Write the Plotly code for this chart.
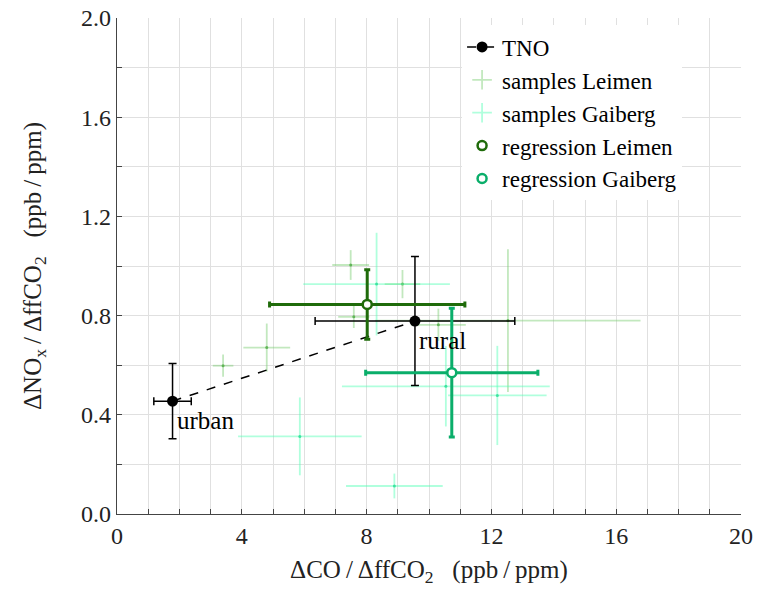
import plotly.graph_objects as go

# TNO inventory ratios
tno_x = [1.78, 9.55]
tno_y = [0.455, 0.778]
tno_xerr = [0.6, 3.2]
tno_yerr = [0.152, 0.26]
tno_labels = ["urban", "rural"]

# samples Leimen
lei_x = [3.40, 4.80, 7.49, 9.15, 7.59, 10.30, 12.53]
lei_y = [0.598, 0.671, 1.004, 0.927, 0.795, 0.763, 0.780]
lei_xerr = [0.33, 0.75, 0.59, 0.57, 0.50, 0.88, 4.25]
lei_yerr = [0.045, 0.097, 0.060, 0.057, 0.045, 0.065, 0.288]

# samples Gaiberg
gai_x = [8.32, 10.54, 12.19, 8.89, 5.86]
gai_y = [0.927, 0.515, 0.478, 0.113, 0.313]
gai_xerr = [2.35, 3.33, 1.58, 1.55, 1.98]
gai_yerr = [0.207, 0.162, 0.200, 0.050, 0.157]

# regression results
reg_lei = dict(x=8.02, y=0.845, xerr=3.13, yerr=0.14)
reg_gai = dict(x=10.73, y=0.570, xerr=2.76, yerr=0.26)

FONT = "Liberation Serif"
C_LEI_S = "rgba(120,205,110,0.45)"
C_GAI_S = "rgba(80,255,180,0.45)"
C_LEI = "#1f6b0a"
C_GAI = "#0aae6a"
TS = "\u2009"

fig = go.Figure()

fig.add_trace(go.Scatter(
    x=lei_x, y=lei_y, mode="markers", name="samples Leimen",
    marker=dict(size=3, color="rgba(80,170,70,0.8)"),
    error_x=dict(type="data", array=lei_xerr, color=C_LEI_S, thickness=1.8, width=0),
    error_y=dict(type="data", array=lei_yerr, color=C_LEI_S, thickness=1.8, width=0),
    showlegend=False))
fig.add_trace(go.Scatter(
    x=gai_x, y=gai_y, mode="markers", name="samples Gaiberg",
    marker=dict(size=3, color="rgba(40,220,150,0.8)"),
    error_x=dict(type="data", array=gai_xerr, color=C_GAI_S, thickness=1.8, width=0),
    error_y=dict(type="data", array=gai_yerr, color=C_GAI_S, thickness=1.8, width=0),
    showlegend=False))

# TNO
fig.add_trace(go.Scatter(
    x=tno_x, y=tno_y, mode="lines+markers", name="TNO",
    line=dict(color="black", dash="dash", width=1.5),
    marker=dict(size=11, color="black"),
    error_x=dict(type="data", array=tno_xerr, color="black", thickness=1.5, width=4),
    error_y=dict(type="data", array=tno_yerr, color="black", thickness=1.5, width=4)))

# legend entries for samples
fig.add_trace(go.Scatter(
    x=[None], y=[None], mode="markers", name="samples Leimen",
    marker=dict(symbol="cross-thin-open", size=14, color=C_LEI_S,
                line=dict(color=C_LEI_S, width=1.8))))
fig.add_trace(go.Scatter(
    x=[None], y=[None], mode="markers", name="samples Gaiberg",
    marker=dict(symbol="cross-thin-open", size=14, color=C_GAI_S,
                line=dict(color=C_GAI_S, width=1.8))))

for r, c, nm in [(reg_lei, C_LEI, "regression Leimen"), (reg_gai, C_GAI, "regression Gaiberg")]:
    fig.add_trace(go.Scatter(
        x=[r["x"]], y=[r["y"]], mode="markers", name=nm,
        marker=dict(size=9, color="white", line=dict(color=c, width=2.5)),
        error_x=dict(type="data", array=[r["xerr"]], color=c, thickness=3, width=3),
        error_y=dict(type="data", array=[r["yerr"]], color=c, thickness=3, width=3)))

for xv, yv, t in zip(tno_x, tno_y, tno_labels):
    fig.add_annotation(x=xv, y=yv, text=t, showarrow=False, xanchor="left", yanchor="top",
                       xshift=2, yshift=-4, font=dict(family=FONT, size=25, color="black"))

axis_common = dict(
    showgrid=True, gridcolor="#e0e0e0", gridwidth=1, zeroline=False,
    showline=True, linecolor="#444", linewidth=1.2,
    ticks="inside", tickcolor="#444", ticklen=5, automargin=False,
    tickfont=dict(family=FONT, size=24, color="#222"),
    minor=dict(ticks="inside", ticklen=5, tickcolor="#444", showgrid=True, gridcolor="#e0e0e0"),
)

fig.update_xaxes(range=[0, 20], tickvals=[0, 4, 8, 12, 16, 20], minor_dtick=1,
                 title=dict(text=f"ΔCO{TS}/{TS}ΔffCO<sub>2</sub>   (ppb{TS}/{TS}ppm)",
                            font=dict(family=FONT, size=25, color="#222"), standoff=12),
                 **axis_common)
fig.update_yaxes(range=[0, 2.0], tickvals=[0, 0.4, 0.8, 1.2, 1.6, 2.0], ticktext=["0.0", "0.4", "0.8", "1.2", "1.6", "2.0"],
                 minor_dtick=0.2,
                 title=dict(text=f"ΔNO<sub>x</sub>{TS}/{TS}ΔffCO<sub>2</sub>   (ppb{TS}/{TS}ppm)",
                            font=dict(family=FONT, size=25, color="#222"), standoff=32),
                 **axis_common)

fig.update_layout(
    width=759, height=590,
    margin=dict(l=117, r=18, t=18, b=76, autoexpand=False),
    plot_bgcolor="white", paper_bgcolor="white",
    font=dict(family=FONT, size=22, color="black"),
    legend=dict(x=0.553, y=0.985, xanchor="left", yanchor="top", bgcolor="white",
                borderwidth=0, font=dict(family=FONT, size=23), tracegroupgap=0,
                itemwidth=30),
)

fig.write_html("out.html")
